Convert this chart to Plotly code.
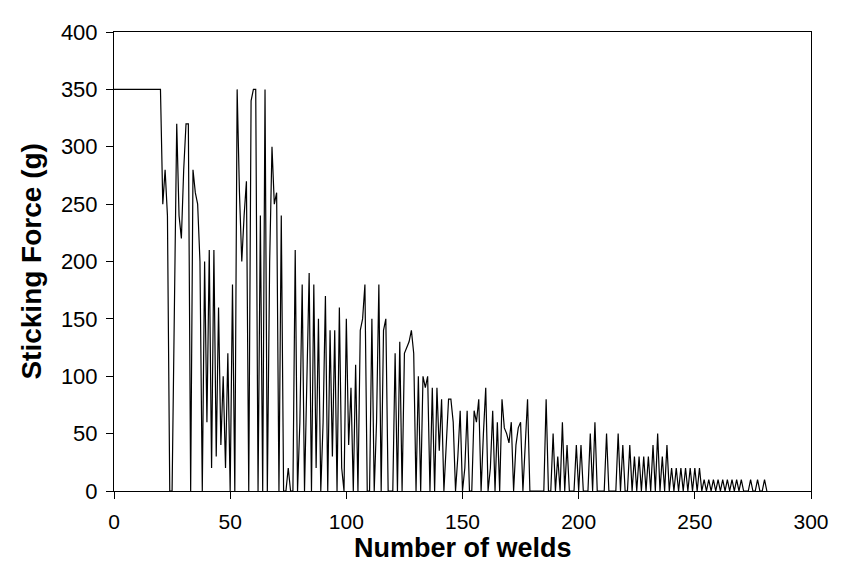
import plotly.graph_objects as go

# Sticking force per weld (g), weld 0..281
force_0_39 = [350, 350, 350, 350, 350, 350, 350, 350, 350, 350,
              350, 350, 350, 350, 350, 350, 350, 350, 350, 350,
              350, 250, 280, 240, 0, 0, 180, 320, 240, 220,
              280, 320, 320, 0, 280, 260, 250, 200, 0, 200]
force_40_79 = [60, 210, 20, 210, 30, 160, 40, 100, 20, 120,
               0, 180, 0, 350, 260, 200, 240, 270, 0, 340,
               350, 350, 0, 240, 0, 350, 0, 200, 300, 250,
               260, 0, 240, 0, 0, 20, 0, 0, 210, 0]
force_80_119 = [60, 180, 0, 100, 190, 0, 180, 20, 150, 0,
                60, 170, 0, 140, 30, 140, 0, 160, 20, 0,
                150, 40, 90, 0, 110, 0, 140, 150, 180, 0,
                0, 150, 0, 60, 180, 0, 140, 150, 0, 0]
force_120_159 = [0, 120, 0, 130, 0, 120, 125, 130, 140, 120,
                 0, 100, 0, 100, 90, 100, 0, 90, 0, 90,
                 35, 80, 0, 40, 80, 80, 60, 0, 30, 70,
                 0, 20, 70, 0, 0, 70, 60, 80, 0, 50]
force_160_199 = [90, 0, 20, 70, 0, 60, 0, 80, 55, 50,
                 42, 60, 0, 40, 55, 60, 0, 40, 80, 0,
                 0, 0, 0, 0, 0, 0, 80, 0, 0, 50,
                 0, 30, 0, 60, 0, 40, 0, 0, 0, 40]
force_200_239 = [0, 40, 0, 0, 0, 50, 0, 60, 0, 0,
                 0, 0, 50, 0, 0, 0, 0, 50, 0, 40,
                 0, 0, 40, 0, 30, 0, 30, 0, 30, 0,
                 30, 0, 40, 0, 50, 0, 30, 0, 40, 0]
force_240_281 = [20, 0, 20, 0, 20, 0, 20, 0, 20, 0,
                 20, 0, 20, 0, 10, 0, 10, 0, 10, 0,
                 10, 0, 10, 0, 10, 0, 10, 0, 10, 0,
                 10, 0, 0, 0, 10, 0, 0, 10, 0, 0,
                 10, 0]

force = (force_0_39 + force_40_79 + force_80_119 + force_120_159
         + force_160_199 + force_200_239 + force_240_281)
welds = list(range(len(force)))

x_ticks = [0, 50, 100, 150, 200, 250, 300]
y_ticks = [0, 50, 100, 150, 200, 250, 300, 350, 400]
x_title = "Number of welds"
y_title = "Sticking Force (g)"

FONT = "Liberation Sans, Arial, sans-serif"
# the page body adds an 8px margin, so the figure is sized to fit the 841x565 window
W, H = 833, 557
L, R, T, B = 106, 21, 13, 74
pw, ph = W - L - R, H - T - B

fig = go.Figure()
fig.add_trace(go.Scatter(
    x=welds, y=force, mode="lines",
    line=dict(color="#000000", width=1.2),
    showlegend=False, hoverinfo="x+y",
))

fig.update_layout(
    width=W, height=H,
    margin=dict(l=L, r=R, t=T, b=B),
    paper_bgcolor="white", plot_bgcolor="white",
    font=dict(family=FONT, size=22, color="black"),
)
fig.update_xaxes(
    range=[0, 300], tickvals=x_ticks, ticktext=[str(t) for t in x_ticks],
    showgrid=False, zeroline=False,
    showline=True, linecolor="black", linewidth=1, mirror=True,
    ticks="outside", ticklen=7, tickcolor="black", tickwidth=1,
    tickfont=dict(family=FONT, size=21), ticklabelstandoff=5,
)
fig.update_yaxes(
    range=[0, 400], tickvals=y_ticks, ticktext=[str(t) for t in y_ticks],
    showgrid=False, zeroline=False,
    showline=True, linecolor="black", linewidth=1, mirror=True,
    ticks="outside", ticklen=7, tickcolor="black", tickwidth=1,
    tickfont=dict(family=FONT, size=22), ticklabelstandoff=4,
)
fig.add_annotation(
    text="<b>" + x_title + "</b>", xref="paper", yref="paper",
    x=0.5, y=-(541 - (H - B)) / ph, xanchor="center", yanchor="middle",
    showarrow=False, font=dict(family=FONT, size=27, color="black"),
)
fig.add_annotation(
    text="<b>" + y_title + "</b>", xref="paper", yref="paper",
    x=-(L - 22) / pw, y=0.5, xanchor="center", yanchor="middle",
    textangle=-90, showarrow=False, font=dict(family=FONT, size=28, color="black"),
)

fig.write_html("out.html")
